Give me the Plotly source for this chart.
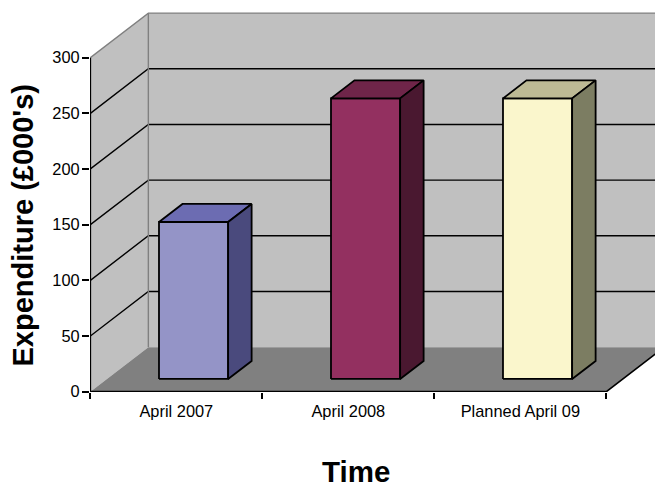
import plotly.graph_objects as go

# Chart content
categories = ["April 2007", "April 2008", "Planned April 09"]
expenditure = [141, 252, 252]
y_ticks = [0, 50, 100, 150, 200, 250, 300]
front_colors = ["#9494C7", "#933060", "#FAF6CC"]
top_colors = ["#6C6CB2", "#6F2549", "#BDBA95"]
side_colors = ["#4A4A7D", "#4A1830", "#7C7D62"]

# Oblique projection: one unit of depth shifts a point right and up
DEPTH_X = 58 / 172
DEPTH_Y = 40
Y_MAX = 300
X_MAX = 3
BAR_WIDTH = 0.402
BAR_FRONT = 0.285
BAR_BACK = 0.69
BAR_OFFSET = 0.004


def project(x, y, depth):
    return x + depth * DEPTH_X, y + depth * DEPTH_Y


def polygon(points):
    xs, ys = zip(*[project(*p) for p in points])
    return list(xs) + [xs[0]], list(ys) + [ys[0]]


fig = go.Figure()


def add_face(points, fill, line_color="rgba(0,0,0,0)", line_width=0):
    xs, ys = polygon(points)
    fig.add_trace(go.Scatter(x=xs, y=ys, mode="lines", fill="toself", fillcolor=fill,
                             line=dict(color=line_color, width=line_width),
                             hoverinfo="skip", showlegend=False, cliponaxis=True))


def add_line(points, color, width):
    xs, ys = zip(*[project(*p) for p in points])
    fig.add_trace(go.Scatter(x=list(xs), y=list(ys), mode="lines",
                             line=dict(color=color, width=width),
                             hoverinfo="skip", showlegend=False, cliponaxis=False))


# Walls and floor
add_face([(0, 0, 1), (X_MAX, 0, 1), (X_MAX, Y_MAX, 1), (0, Y_MAX, 1)], "#C0C0C0")
add_face([(0, 0, 0), (0, 0, 1), (0, Y_MAX, 1), (0, Y_MAX, 0)], "#C0C0C0")
add_face([(0, 0, 0), (X_MAX, 0, 0), (X_MAX, 0, 1), (0, 0, 1)], "#808080")

# Gridlines run along the left wall and across the back wall
for tick in y_ticks[1:-1]:
    add_line([(0, tick, 0), (0, tick, 1), (X_MAX, tick, 1)], "#000000", 1.4)

# Wall edges
add_line([(0, Y_MAX, 0), (0, Y_MAX, 1), (X_MAX, Y_MAX, 1)], "#808080", 1.4)
add_line([(0, 0, 1), (0, Y_MAX, 1)], "#808080", 1.4)

# Axis lines
add_line([(0, 0, 0), (0, Y_MAX, 0)], "#000000", 1.6)
add_line([(0, 0, 0), (X_MAX, 0, 0), (X_MAX, 0, 1)], "#000000", 1.6)

# Bars, each made of a front, top and side face
for i, value in enumerate(expenditure):
    left = i + 0.5 + BAR_OFFSET - BAR_WIDTH / 2
    right = i + 0.5 + BAR_OFFSET + BAR_WIDTH / 2
    add_face([(left, 0, BAR_FRONT), (right, 0, BAR_FRONT),
              (right, value, BAR_FRONT), (left, value, BAR_FRONT)],
             front_colors[i], "#000000", 1.8)
    add_face([(left, value, BAR_FRONT), (right, value, BAR_FRONT),
              (right, value, BAR_BACK), (left, value, BAR_BACK)],
             top_colors[i], "#000000", 1.8)
    add_face([(right, 0, BAR_FRONT), (right, 0, BAR_BACK),
              (right, value, BAR_BACK), (right, value, BAR_FRONT)],
             side_colors[i], "#000000", 1.8)

FONT = "Liberation Sans, Arial, sans-serif"

fig.update_layout(
    width=655, height=482,
    margin=dict(l=90, r=0, t=10, b=90, pad=0),
    paper_bgcolor="#FFFFFF", plot_bgcolor="rgba(0,0,0,0)",
    showlegend=False,
    font=dict(family=FONT, color="#000000"),
    xaxis=dict(
        range=[-0.002, 565 / 172.0 - 0.002], showgrid=False, zeroline=False, showline=False,
        tickmode="array", tickvals=[0.5, 1.5, 2.5], ticktext=categories,
        ticks="", ticklabelstandoff=8, tickfont=dict(size=16.4, family=FONT),
        minor=dict(tickmode="array", tickvals=[0, 1, 2, 3], ticks="outside",
                   ticklen=6, tickwidth=1.6, tickcolor="#000000", showgrid=False),
    ),
    yaxis=dict(
        range=[-0.3, 342.8], showgrid=False, zeroline=False, showline=False,
        tickmode="array", tickvals=y_ticks,
        ticks="outside", ticklen=7, tickwidth=1.6, tickcolor="#000000",
        ticklabelstandoff=-1, tickfont=dict(size=16.4, family=FONT),
    ),
    annotations=[
        dict(text="Expenditure (£000's)", xref="paper", yref="paper", x=-0.1185, y=0.436,
             xanchor="center", yanchor="middle", textangle=-90, showarrow=False,
             font=dict(size=29, family=FONT, color="#000000", weight="bold")),
        dict(text="Time", xref="paper", yref="paper", x=0.4715, y=-0.207,
             xanchor="center", yanchor="middle", showarrow=False,
             font=dict(size=29.5, family=FONT, color="#000000", weight="bold")),
    ],
)

fig.write_html("out.html")
